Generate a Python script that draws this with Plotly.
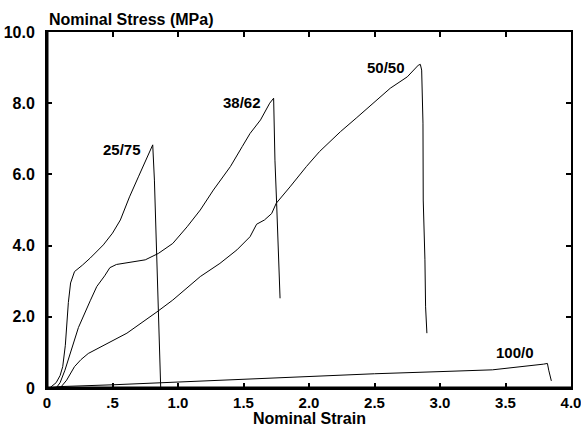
import plotly.graph_objects as go

# ---- data ----
x_25_75 = [0.02, 0.07, 0.10, 0.12, 0.14, 0.163, 0.18, 0.21, 0.27, 0.33, 0.43, 0.50, 0.56, 0.63, 0.70, 0.76, 0.807, 0.82, 0.84, 0.86, 0.868]
y_25_75 = [0.0, 0.15, 0.35, 0.6, 1.2, 2.4, 2.95, 3.27, 3.45, 3.65, 4.02, 4.35, 4.72, 5.37, 5.95, 6.45, 6.83, 5.84, 3.5, 0.9, 0.0]

x_38_62 = [0.07, 0.10, 0.137, 0.19, 0.24, 0.33, 0.38, 0.44, 0.48, 0.53, 0.63, 0.75, 0.85, 0.96, 1.07, 1.17, 1.27, 1.40, 1.49, 1.55, 1.63, 1.70, 1.73, 1.733, 1.74, 1.753, 1.766, 1.779]
y_38_62 = [0.0, 0.15, 0.5, 1.15, 1.7, 2.45, 2.85, 3.15, 3.38, 3.47, 3.52, 3.6, 3.78, 4.06, 4.53, 5.0, 5.56, 6.22, 6.78, 7.15, 7.53, 8.0, 8.14, 7.62, 6.4, 5.19, 3.97, 2.52]

x_50_50 = [0.10, 0.15, 0.21, 0.26, 0.315, 0.46, 0.61, 0.84, 0.96, 1.17, 1.32, 1.45, 1.55, 1.60, 1.66, 1.715, 1.75, 1.855, 1.98, 2.08, 2.24, 2.36, 2.49, 2.62, 2.75, 2.835, 2.85, 2.86, 2.87, 2.872, 2.885, 2.89, 2.90]
y_50_50 = [0.0, 0.22, 0.6, 0.8, 0.97, 1.25, 1.54, 2.14, 2.47, 3.13, 3.5, 3.88, 4.25, 4.6, 4.72, 4.9, 5.19, 5.65, 6.22, 6.64, 7.2, 7.58, 8.0, 8.42, 8.74, 9.07, 9.09, 8.93, 7.44, 5.28, 3.6, 2.28, 1.54]

x_100_0 = [0.0, 0.1, 0.5, 1.0, 1.5, 2.0, 2.5, 3.0, 3.4, 3.79, 3.82, 3.83, 3.85]
y_100_0 = [0.0, 0.04, 0.09, 0.17, 0.25, 0.32, 0.40, 0.46, 0.51, 0.67, 0.69, 0.5, 0.2]

series_names = ["25/75", "38/62", "50/50", "100/0"]
series_x = [x_25_75, x_38_62, x_50_50, x_100_0]
series_y = [y_25_75, y_38_62, y_50_50, y_100_0]
label_x = [0.735, 1.65, 2.75, 3.73]
label_y = [6.71, 8.02, 9.0, 1.0]

x_tickvals = [0, 0.5, 1.0, 1.5, 2.0, 2.5, 3.0, 3.5, 4.0]
x_ticktext = ["0", ".5", "1.0", "1.5", "2.0", "2.5", "3.0", "3.5", "4.0"]
y_tickvals = [0, 2, 4, 6, 8, 10]
y_ticktext = ["0", "2.0", "4.0", "6.0", "8.0", "10.0"]

FONT = "Liberation Sans, Arial, sans-serif"

fig = go.Figure()
annotations = []
for name, xs, ys, lx, ly in zip(series_names, series_x, series_y, label_x, label_y):
    fig.add_trace(go.Scatter(x=xs, y=ys, mode="lines", name=name,
                             line=dict(color="black", width=1), showlegend=False))
    annotations.append(dict(x=lx, y=ly, xref="x", yref="y", text="<b>%s</b>" % name,
                            showarrow=False, xanchor="right", yanchor="middle",
                            font=dict(family=FONT, size=15, color="black")))

annotations.append(dict(x=0, y=1, xref="paper", yref="paper", yshift=13, xshift=0,
                        text="<b>Nominal Stress (MPa)</b>", showarrow=False,
                        xanchor="left", yanchor="middle",
                        font=dict(family=FONT, size=16, color="black")))
annotations.append(dict(x=0.5, y=0, xref="paper", yref="paper", yshift=-30,
                        text="<b>Nominal Strain</b>", showarrow=False,
                        xanchor="center", yanchor="middle",
                        font=dict(family=FONT, size=16, color="black")))

axis_common = dict(showgrid=False, zeroline=False, showline=True, linecolor="black",
                   linewidth=2, mirror="ticks", ticks="inside", ticklen=5, tickwidth=2,
                   tickcolor="black", automargin=False, ticklabeloverflow="allow")

fig.update_layout(
    width=581, height=432,
    margin=dict(l=47, r=10, t=32, b=44),
    paper_bgcolor="white", plot_bgcolor="white",
    xaxis=dict(range=[0, 4], tickvals=x_tickvals, ticklabelstandoff=0,
               tickfont=dict(family=FONT, size=15, color="black"),
               ticktext=["<b>%s</b>" % t for t in x_ticktext], **axis_common),
    yaxis=dict(range=[0, 10], tickvals=y_tickvals, ticklabelstandoff=7,
               tickfont=dict(family=FONT, size=16, color="black"),
               ticktext=["<b>%s</b>" % t for t in y_ticktext], **axis_common),
    annotations=annotations,
    shapes=[
        dict(type="line", xref="paper", yref="paper", x0=0, x1=1, y0=0, y1=0,
             line=dict(color="black", width=3), layer="above"),
        dict(type="line", xref="paper", yref="paper", x0=0, x1=0, y0=0, y1=1,
             line=dict(color="black", width=3), layer="above"),
    ],
)

fig.write_html("out.html")
